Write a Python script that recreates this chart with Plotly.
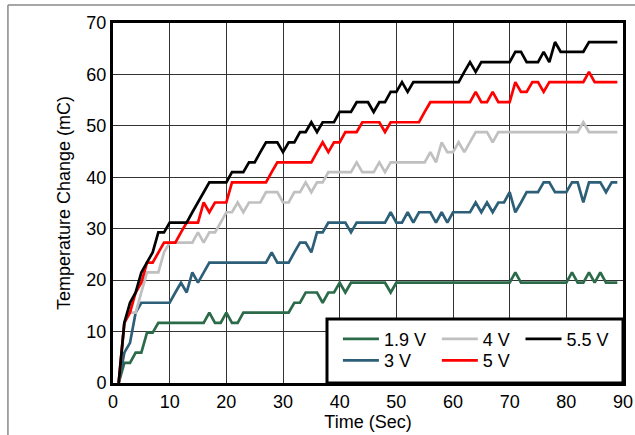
import plotly.graph_objects as go

time_s = list(range(1, 90))

v19 = [
    0, 3.9, 3.9, 5.9, 5.9, 9.8, 9.8, 11.7, 11.7, 11.7,
    11.7, 11.7, 11.7, 11.7, 11.7, 11.7, 13.7, 11.7, 11.7, 13.7,
    11.7, 11.7, 13.7, 13.7, 13.7, 13.7, 13.7, 13.7, 13.7, 13.7,
    13.7, 15.6, 15.6, 17.6, 17.6, 17.6, 15.6, 17.6, 17.6, 19.5,
    17.6, 19.5, 19.5, 19.5, 19.5, 19.5, 19.5, 19.5, 17.6, 19.5,
    19.5, 19.5, 19.5, 19.5, 19.5, 19.5, 19.5, 19.5, 19.5, 19.5,
    19.5, 19.5, 19.5, 19.5, 19.5, 19.5, 19.5, 19.5, 19.5, 19.5,
    21.5, 19.5, 19.5, 19.5, 19.5, 19.5, 19.5, 19.5, 19.5, 19.5,
    21.5, 19.5, 19.5, 21.5, 19.5, 21.5, 19.5, 19.5, 19.5,
]

v3 = [
    0, 5.9, 7.8, 13.7, 15.6, 15.6, 15.6, 15.6, 15.6, 15.6,
    17.6, 19.5, 17.6, 21.5, 19.5, 21.5, 23.4, 23.4, 23.4, 23.4,
    23.4, 23.4, 23.4, 23.4, 23.4, 23.4, 23.4, 25.4, 23.4, 23.4,
    23.4, 25.4, 27.3, 27.3, 25.4, 29.3, 29.3, 31.2, 31.2, 31.2,
    31.2, 29.3, 31.2, 31.2, 31.2, 31.2, 31.2, 31.2, 33.2, 31.2,
    31.2, 33.2, 31.2, 33.2, 33.2, 33.2, 31.2, 33.2, 31.2, 33.2,
    33.2, 33.2, 33.2, 35.1, 33.2, 35.1, 33.2, 35.1, 35.1, 37.1,
    33.2, 35.1, 37.1, 37.1, 37.1, 39.0, 39.0, 37.1, 37.1, 37.1,
    39.0, 39.0, 35.1, 39.0, 39.0, 39.0, 37.1, 39.0, 39.0,
]

v4 = [
    0, 11.7, 13.7, 13.7, 17.6, 21.5, 21.5, 21.5, 25.4, 27.3,
    27.3, 27.3, 27.3, 27.3, 29.3, 27.3, 29.3, 29.3, 31.2, 33.2,
    33.2, 35.1, 33.2, 35.1, 35.1, 35.1, 37.1, 37.1, 37.1, 35.1,
    35.1, 37.1, 37.1, 39.0, 37.1, 39.0, 39.0, 41.0, 41.0, 41.0,
    41.0, 41.0, 42.9, 41.0, 41.0, 41.0, 42.9, 41.0, 42.9, 42.9,
    42.9, 42.9, 42.9, 42.9, 42.9, 44.9, 42.9, 46.8, 44.9, 44.9,
    46.8, 44.9, 46.8, 48.8, 48.8, 48.8, 46.8, 48.8, 48.8, 48.8,
    48.8, 48.8, 48.8, 48.8, 48.8, 48.8, 48.8, 48.8, 48.8, 48.8,
    48.8, 48.8, 50.7, 48.8, 48.8, 48.8, 48.8, 48.8, 48.8,
]

v5 = [
    0, 11.7, 13.7, 17.6, 19.5, 23.4, 23.4, 25.4, 27.3, 27.3,
    27.3, 29.3, 31.2, 31.2, 31.2, 35.1, 33.2, 35.1, 35.1, 35.1,
    39.0, 39.0, 39.0, 39.0, 39.0, 39.0, 39.0, 41.0, 42.9, 42.9,
    42.9, 42.9, 42.9, 42.9, 42.9, 44.9, 46.8, 44.9, 46.8, 46.8,
    48.8, 48.8, 48.8, 50.7, 50.7, 50.7, 50.7, 48.8, 50.7, 50.7,
    50.7, 50.7, 50.7, 50.7, 52.7, 54.6, 54.6, 54.6, 54.6, 54.6,
    54.6, 54.6, 54.6, 56.6, 54.6, 54.6, 56.6, 54.6, 54.6, 54.6,
    58.5, 56.6, 56.6, 58.5, 58.5, 56.6, 58.5, 58.5, 58.5, 58.5,
    58.5, 58.5, 58.5, 60.5, 58.5, 58.5, 58.5, 58.5, 58.5,
]

v55 = [
    0, 11.7, 15.6, 17.6, 21.5, 23.4, 25.4, 29.3, 29.3, 31.2,
    31.2, 31.2, 31.2, 33.2, 35.1, 37.1, 39.0, 39.0, 39.0, 39.0,
    41.0, 41.0, 41.0, 42.9, 42.9, 44.9, 46.8, 46.8, 46.8, 44.9,
    46.8, 46.8, 48.8, 48.8, 50.7, 48.8, 50.7, 50.7, 50.7, 52.7,
    52.7, 52.7, 54.6, 54.6, 54.6, 52.7, 54.6, 54.6, 56.6, 56.6,
    58.5, 56.6, 58.5, 58.5, 58.5, 58.5, 58.5, 58.5, 58.5, 58.5,
    58.5, 60.5, 62.4, 60.5, 62.4, 62.4, 62.4, 62.4, 62.4, 62.4,
    64.4, 64.4, 62.4, 62.4, 62.4, 64.4, 62.4, 66.3, 64.4, 64.4,
    64.4, 64.4, 64.4, 66.3, 66.3, 66.3, 66.3, 66.3, 66.3,
]

series_names = ["1.9 V", "3 V", "4 V", "5 V", "5.5 V"]
series_values = [v19, v3, v4, v5, v55]
series_colors = ["#2b6b49", "#2d5f78", "#c0c0c0", "#ff0000", "#000000"]
series_legends = ["legend", "legend2", "legend3", "legend4", "legend5"]

x_ticks = [0, 10, 20, 30, 40, 50, 60, 70, 80, 90]
y_ticks = [0, 10, 20, 30, 40, 50, 60, 70]

FONT = "Liberation Sans, Arial, sans-serif"

fig = go.Figure()
for name, vals, col, lg in zip(series_names, series_values, series_colors, series_legends):
    fig.add_trace(go.Scatter(
        x=time_s, y=vals, mode="lines", name=name, showlegend=True,
        line=dict(color=col, width=2.7), legend=lg,
    ))

leg_common = dict(
    bgcolor="rgba(0,0,0,0)", borderwidth=0, orientation="v", visible=True,
    xanchor="left", yanchor="middle", font=dict(family=FONT, size=18, color="#000"),
    itemwidth=36, tracegroupgap=0,
)

col_x = [0.441, 0.635, 0.799]
row_y = [0.122, 0.062]

fig.update_layout(
    width=635, height=435,
    margin=dict(l=113, r=12, t=23, b=52),
    paper_bgcolor="white", plot_bgcolor="white",
    showlegend=True,
    font=dict(family=FONT, size=18, color="#000"),
    legend=dict(x=col_x[0], y=row_y[0], **leg_common),
    legend2=dict(x=col_x[0], y=row_y[1], **leg_common),
    legend3=dict(x=col_x[1], y=row_y[0], **leg_common),
    legend4=dict(x=col_x[1], y=row_y[1], **leg_common),
    legend5=dict(x=col_x[2], y=row_y[0], **leg_common),
    xaxis=dict(
        range=[0, 90], tickvals=x_ticks, ticks="", showgrid=True,
        gridcolor="#333", gridwidth=1, zeroline=False,
        showline=True, linecolor="#000", linewidth=3, mirror=True,
        title=dict(text="Time (Sec)", standoff=4, font=dict(size=18)),
        tickfont=dict(size=18), automargin=False,
    ),
    yaxis=dict(
        range=[0, 70], tickvals=y_ticks, ticks="", showgrid=True,
        gridcolor="#333", gridwidth=1, zeroline=False,
        showline=True, linecolor="#000", linewidth=3, mirror=True,
        title=dict(text="Temperature Change (mC)", standoff=12, font=dict(size=18)),
        tickfont=dict(size=18), automargin=False,
    ),
    shapes=[
        dict(type="rect", xref="paper", yref="paper", x0=0.4196, x1=1.0, y0=0, y1=0.178,
             line=dict(color="#000", width=3), fillcolor="white", layer="above"),
        dict(type="line", xref="paper", yref="paper", x0=-0.206, x1=1.05, y0=1.05, y1=1.05,
             line=dict(color="#888", width=1.5)),
        dict(type="line", xref="paper", yref="paper", x0=-0.206, x1=-0.206, y0=1.05, y1=-0.2,
             line=dict(color="#888", width=1.5)),
    ],
)

fig.write_html(
    "out.html",
    config={"displayModeBar": False},
    post_script="document.body.style.margin='0';document.body.style.overflow='hidden';",
)
